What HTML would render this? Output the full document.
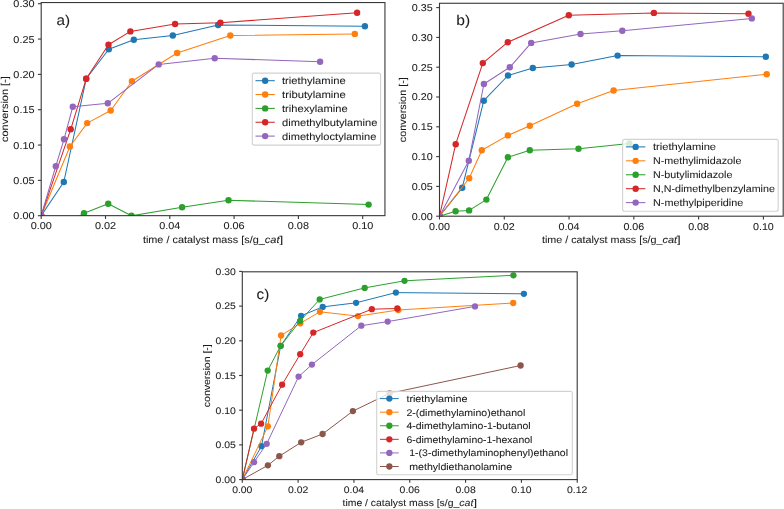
<!DOCTYPE html>
<html><head><meta charset="utf-8"><style>
html,body{margin:0;padding:0;background:#fff;}
svg{display:block;will-change:transform;}
text{font-family:"Liberation Sans",sans-serif;fill:#1c1c1c;text-rendering:geometricPrecision;stroke:#1c1c1c;stroke-width:0.07px;}
</style></head><body>
<svg width="784" height="509" viewBox="0 0 784 509">
<rect width="784" height="509" fill="#fff"/>
<clipPath id="clipa"><rect x="41.20" y="2.55" width="343.75" height="213.10"/></clipPath>
<g clip-path="url(#clipa)">
<polyline points="41.20,215.70 63.80,182.00 86.20,78.80 108.80,49.30 133.80,39.80 172.80,35.50 218.10,25.00 364.90,26.30" fill="none" stroke="#1f77b4" stroke-width="1.05" stroke-linejoin="round" stroke-linecap="butt"/>
<circle cx="41.20" cy="215.70" r="3.2" fill="#1f77b4"/>
<circle cx="63.80" cy="182.00" r="3.2" fill="#1f77b4"/>
<circle cx="86.20" cy="78.80" r="3.2" fill="#1f77b4"/>
<circle cx="108.80" cy="49.30" r="3.2" fill="#1f77b4"/>
<circle cx="133.80" cy="39.80" r="3.2" fill="#1f77b4"/>
<circle cx="172.80" cy="35.50" r="3.2" fill="#1f77b4"/>
<circle cx="218.10" cy="25.00" r="3.2" fill="#1f77b4"/>
<circle cx="364.90" cy="26.30" r="3.2" fill="#1f77b4"/>
<polyline points="41.20,215.70 69.90,146.50 87.20,123.10 110.70,110.50 131.90,81.30 177.10,53.00 230.30,35.50 354.80,33.90" fill="none" stroke="#ff7f0e" stroke-width="1.05" stroke-linejoin="round" stroke-linecap="butt"/>
<circle cx="41.20" cy="215.70" r="3.2" fill="#ff7f0e"/>
<circle cx="69.90" cy="146.50" r="3.2" fill="#ff7f0e"/>
<circle cx="87.20" cy="123.10" r="3.2" fill="#ff7f0e"/>
<circle cx="110.70" cy="110.50" r="3.2" fill="#ff7f0e"/>
<circle cx="131.90" cy="81.30" r="3.2" fill="#ff7f0e"/>
<circle cx="177.10" cy="53.00" r="3.2" fill="#ff7f0e"/>
<circle cx="230.30" cy="35.50" r="3.2" fill="#ff7f0e"/>
<circle cx="354.80" cy="33.90" r="3.2" fill="#ff7f0e"/>
<polyline points="75.00,218.50 84.00,213.20 108.20,203.70 131.50,215.80 182.10,207.20 228.50,200.30 368.60,204.60" fill="none" stroke="#2ca02c" stroke-width="1.05" stroke-linejoin="round" stroke-linecap="butt"/>
<circle cx="84.00" cy="213.20" r="3.2" fill="#2ca02c"/>
<circle cx="108.20" cy="203.70" r="3.2" fill="#2ca02c"/>
<circle cx="131.50" cy="215.80" r="3.2" fill="#2ca02c"/>
<circle cx="182.10" cy="207.20" r="3.2" fill="#2ca02c"/>
<circle cx="228.50" cy="200.30" r="3.2" fill="#2ca02c"/>
<circle cx="368.60" cy="204.60" r="3.2" fill="#2ca02c"/>
<polyline points="41.20,215.70 70.70,129.30 86.20,78.80 108.50,44.80 130.40,31.40 175.10,24.00 220.40,22.70 357.10,12.80" fill="none" stroke="#d62728" stroke-width="1.05" stroke-linejoin="round" stroke-linecap="butt"/>
<circle cx="41.20" cy="215.70" r="3.2" fill="#d62728"/>
<circle cx="70.70" cy="129.30" r="3.2" fill="#d62728"/>
<circle cx="86.20" cy="78.80" r="3.2" fill="#d62728"/>
<circle cx="108.50" cy="44.80" r="3.2" fill="#d62728"/>
<circle cx="130.40" cy="31.40" r="3.2" fill="#d62728"/>
<circle cx="175.10" cy="24.00" r="3.2" fill="#d62728"/>
<circle cx="220.40" cy="22.70" r="3.2" fill="#d62728"/>
<circle cx="357.10" cy="12.80" r="3.2" fill="#d62728"/>
<polyline points="41.20,215.70 55.80,166.20 64.00,139.30 72.80,106.70 107.80,103.30 158.70,64.40 214.70,58.20 320.10,61.80" fill="none" stroke="#9467bd" stroke-width="1.05" stroke-linejoin="round" stroke-linecap="butt"/>
<circle cx="41.20" cy="215.70" r="3.2" fill="#9467bd"/>
<circle cx="55.80" cy="166.20" r="3.2" fill="#9467bd"/>
<circle cx="64.00" cy="139.30" r="3.2" fill="#9467bd"/>
<circle cx="72.80" cy="106.70" r="3.2" fill="#9467bd"/>
<circle cx="107.80" cy="103.30" r="3.2" fill="#9467bd"/>
<circle cx="158.70" cy="64.40" r="3.2" fill="#9467bd"/>
<circle cx="214.70" cy="58.20" r="3.2" fill="#9467bd"/>
<circle cx="320.10" cy="61.80" r="3.2" fill="#9467bd"/>
</g>
<rect x="41.20" y="2.55" width="343.75" height="213.10" fill="none" stroke="#383838" stroke-width="1.1"/>
<line x1="41.20" y1="215.65" x2="41.20" y2="218.95" stroke="#383838" stroke-width="1.1"/>
<text x="41.20" y="229.45" font-size="9.97" text-anchor="middle" textLength="21.15" lengthAdjust="spacingAndGlyphs" >0.00</text>
<line x1="105.50" y1="215.65" x2="105.50" y2="218.95" stroke="#383838" stroke-width="1.1"/>
<text x="105.50" y="229.45" font-size="9.97" text-anchor="middle" textLength="21.15" lengthAdjust="spacingAndGlyphs" >0.02</text>
<line x1="169.80" y1="215.65" x2="169.80" y2="218.95" stroke="#383838" stroke-width="1.1"/>
<text x="169.80" y="229.45" font-size="9.97" text-anchor="middle" textLength="21.15" lengthAdjust="spacingAndGlyphs" >0.04</text>
<line x1="234.10" y1="215.65" x2="234.10" y2="218.95" stroke="#383838" stroke-width="1.1"/>
<text x="234.10" y="229.45" font-size="9.97" text-anchor="middle" textLength="21.15" lengthAdjust="spacingAndGlyphs" >0.06</text>
<line x1="298.40" y1="215.65" x2="298.40" y2="218.95" stroke="#383838" stroke-width="1.1"/>
<text x="298.40" y="229.45" font-size="9.97" text-anchor="middle" textLength="21.15" lengthAdjust="spacingAndGlyphs" >0.08</text>
<line x1="362.70" y1="215.65" x2="362.70" y2="218.95" stroke="#383838" stroke-width="1.1"/>
<text x="362.70" y="229.45" font-size="9.97" text-anchor="middle" textLength="21.15" lengthAdjust="spacingAndGlyphs" >0.10</text>
<line x1="37.90" y1="215.70" x2="41.20" y2="215.70" stroke="#383838" stroke-width="1.1"/>
<text x="34.50" y="219.16" font-size="9.97" text-anchor="end" textLength="21.15" lengthAdjust="spacingAndGlyphs" >0.00</text>
<line x1="37.90" y1="180.37" x2="41.20" y2="180.37" stroke="#383838" stroke-width="1.1"/>
<text x="34.50" y="183.83" font-size="9.97" text-anchor="end" textLength="21.15" lengthAdjust="spacingAndGlyphs" >0.05</text>
<line x1="37.90" y1="145.04" x2="41.20" y2="145.04" stroke="#383838" stroke-width="1.1"/>
<text x="34.50" y="148.50" font-size="9.97" text-anchor="end" textLength="21.15" lengthAdjust="spacingAndGlyphs" >0.10</text>
<line x1="37.90" y1="109.71" x2="41.20" y2="109.71" stroke="#383838" stroke-width="1.1"/>
<text x="34.50" y="113.17" font-size="9.97" text-anchor="end" textLength="21.15" lengthAdjust="spacingAndGlyphs" >0.15</text>
<line x1="37.90" y1="74.38" x2="41.20" y2="74.38" stroke="#383838" stroke-width="1.1"/>
<text x="34.50" y="77.84" font-size="9.97" text-anchor="end" textLength="21.15" lengthAdjust="spacingAndGlyphs" >0.20</text>
<line x1="37.90" y1="39.05" x2="41.20" y2="39.05" stroke="#383838" stroke-width="1.1"/>
<text x="34.50" y="42.51" font-size="9.97" text-anchor="end" textLength="21.15" lengthAdjust="spacingAndGlyphs" >0.25</text>
<line x1="37.90" y1="3.72" x2="41.20" y2="3.72" stroke="#383838" stroke-width="1.1"/>
<text x="34.50" y="7.18" font-size="9.97" text-anchor="end" textLength="21.15" lengthAdjust="spacingAndGlyphs" >0.30</text>
<text x="142.90" y="242.55" font-size="9.97" textLength="121.88" lengthAdjust="spacingAndGlyphs">time / catalyst mass [s/g_</text>
<text x="264.78" y="242.55" font-size="9.97" font-style="italic" textLength="14.77" lengthAdjust="spacingAndGlyphs">cat</text>
<text x="279.55" y="242.55" font-size="9.97" textLength="3.71" lengthAdjust="spacingAndGlyphs">]</text>
<text transform="translate(7.60,109.10) rotate(-90)" x="0" y="0" font-size="9.97" text-anchor="middle" textLength="65.71" lengthAdjust="spacingAndGlyphs">conversion [-]</text>
<text x="56.60" y="25.30" font-size="14.20" textLength="13.56" lengthAdjust="spacingAndGlyphs">a)</text>
<rect x="252.30" y="73.10" width="128.30" height="72.00" rx="2.00" fill="#fff" fill-opacity="0.8" stroke="#d2d2d2" stroke-width="1.1"/>
<line x1="255.50" y1="80.70" x2="274.80" y2="80.70" stroke="#1f77b4" stroke-width="1.05"/>
<circle cx="265.15" cy="80.70" r="3.2" fill="#1f77b4"/>
<text x="282.00" y="84.20" font-size="9.97" text-anchor="start" textLength="63.70" lengthAdjust="spacingAndGlyphs" >triethylamine</text>
<line x1="255.50" y1="94.55" x2="274.80" y2="94.55" stroke="#ff7f0e" stroke-width="1.05"/>
<circle cx="265.15" cy="94.55" r="3.2" fill="#ff7f0e"/>
<text x="282.00" y="98.05" font-size="9.97" text-anchor="start" textLength="63.89" lengthAdjust="spacingAndGlyphs" >tributylamine</text>
<line x1="255.50" y1="108.40" x2="274.80" y2="108.40" stroke="#2ca02c" stroke-width="1.05"/>
<circle cx="265.15" cy="108.40" r="3.2" fill="#2ca02c"/>
<text x="282.00" y="111.90" font-size="9.97" text-anchor="start" textLength="65.60" lengthAdjust="spacingAndGlyphs" >trihexylamine</text>
<line x1="255.50" y1="122.25" x2="274.80" y2="122.25" stroke="#d62728" stroke-width="1.05"/>
<circle cx="265.15" cy="122.25" r="3.2" fill="#d62728"/>
<text x="282.00" y="125.75" font-size="9.97" text-anchor="start" textLength="95.39" lengthAdjust="spacingAndGlyphs" >dimethylbutylamine</text>
<line x1="255.50" y1="136.10" x2="274.80" y2="136.10" stroke="#9467bd" stroke-width="1.05"/>
<circle cx="265.15" cy="136.10" r="3.2" fill="#9467bd"/>
<text x="282.00" y="139.60" font-size="9.97" text-anchor="start" textLength="94.38" lengthAdjust="spacingAndGlyphs" >dimethyloctylamine</text>
<clipPath id="clipb"><rect x="439.50" y="3.27" width="343.70" height="212.93"/></clipPath>
<g clip-path="url(#clipb)">
<polyline points="439.50,216.20 462.20,187.80 483.80,100.70 508.00,75.50 532.80,68.00 571.60,64.50 617.60,55.60 765.80,56.70" fill="none" stroke="#1f77b4" stroke-width="1.05" stroke-linejoin="round" stroke-linecap="butt"/>
<circle cx="439.50" cy="216.20" r="3.2" fill="#1f77b4"/>
<circle cx="462.20" cy="187.80" r="3.2" fill="#1f77b4"/>
<circle cx="483.80" cy="100.70" r="3.2" fill="#1f77b4"/>
<circle cx="508.00" cy="75.50" r="3.2" fill="#1f77b4"/>
<circle cx="532.80" cy="68.00" r="3.2" fill="#1f77b4"/>
<circle cx="571.60" cy="64.50" r="3.2" fill="#1f77b4"/>
<circle cx="617.60" cy="55.60" r="3.2" fill="#1f77b4"/>
<circle cx="765.80" cy="56.70" r="3.2" fill="#1f77b4"/>
<polyline points="439.50,216.20 469.20,178.30 481.80,150.20 507.90,135.40 529.80,125.70 577.10,103.80 613.60,90.50 766.70,74.30" fill="none" stroke="#ff7f0e" stroke-width="1.05" stroke-linejoin="round" stroke-linecap="butt"/>
<circle cx="439.50" cy="216.20" r="3.2" fill="#ff7f0e"/>
<circle cx="469.20" cy="178.30" r="3.2" fill="#ff7f0e"/>
<circle cx="481.80" cy="150.20" r="3.2" fill="#ff7f0e"/>
<circle cx="507.90" cy="135.40" r="3.2" fill="#ff7f0e"/>
<circle cx="529.80" cy="125.70" r="3.2" fill="#ff7f0e"/>
<circle cx="577.10" cy="103.80" r="3.2" fill="#ff7f0e"/>
<circle cx="613.60" cy="90.50" r="3.2" fill="#ff7f0e"/>
<circle cx="766.70" cy="74.30" r="3.2" fill="#ff7f0e"/>
<polyline points="439.50,216.20 455.60,211.30 469.10,210.40 486.40,199.60 507.90,157.30 529.80,150.20 578.50,148.80 629.40,143.40" fill="none" stroke="#2ca02c" stroke-width="1.05" stroke-linejoin="round" stroke-linecap="butt"/>
<circle cx="439.50" cy="216.20" r="3.2" fill="#2ca02c"/>
<circle cx="455.60" cy="211.30" r="3.2" fill="#2ca02c"/>
<circle cx="469.10" cy="210.40" r="3.2" fill="#2ca02c"/>
<circle cx="486.40" cy="199.60" r="3.2" fill="#2ca02c"/>
<circle cx="507.90" cy="157.30" r="3.2" fill="#2ca02c"/>
<circle cx="529.80" cy="150.20" r="3.2" fill="#2ca02c"/>
<circle cx="578.50" cy="148.80" r="3.2" fill="#2ca02c"/>
<circle cx="629.40" cy="143.40" r="3.2" fill="#2ca02c"/>
<polyline points="439.50,216.20 455.70,144.20 482.80,63.10 507.80,42.20 568.80,15.20 653.90,12.90 748.50,13.80" fill="none" stroke="#d62728" stroke-width="1.05" stroke-linejoin="round" stroke-linecap="butt"/>
<circle cx="439.50" cy="216.20" r="3.2" fill="#d62728"/>
<circle cx="455.70" cy="144.20" r="3.2" fill="#d62728"/>
<circle cx="482.80" cy="63.10" r="3.2" fill="#d62728"/>
<circle cx="507.80" cy="42.20" r="3.2" fill="#d62728"/>
<circle cx="568.80" cy="15.20" r="3.2" fill="#d62728"/>
<circle cx="653.90" cy="12.90" r="3.2" fill="#d62728"/>
<circle cx="748.50" cy="13.80" r="3.2" fill="#d62728"/>
<polyline points="439.50,216.20 468.80,160.80 483.90,84.00 509.80,67.30 531.20,42.90 580.50,34.00 622.30,30.80 751.80,18.40" fill="none" stroke="#9467bd" stroke-width="1.05" stroke-linejoin="round" stroke-linecap="butt"/>
<circle cx="439.50" cy="216.20" r="3.2" fill="#9467bd"/>
<circle cx="468.80" cy="160.80" r="3.2" fill="#9467bd"/>
<circle cx="483.90" cy="84.00" r="3.2" fill="#9467bd"/>
<circle cx="509.80" cy="67.30" r="3.2" fill="#9467bd"/>
<circle cx="531.20" cy="42.90" r="3.2" fill="#9467bd"/>
<circle cx="580.50" cy="34.00" r="3.2" fill="#9467bd"/>
<circle cx="622.30" cy="30.80" r="3.2" fill="#9467bd"/>
<circle cx="751.80" cy="18.40" r="3.2" fill="#9467bd"/>
</g>
<rect x="439.50" y="3.27" width="343.70" height="212.93" fill="none" stroke="#383838" stroke-width="1.1"/>
<line x1="439.50" y1="216.20" x2="439.50" y2="219.50" stroke="#383838" stroke-width="1.1"/>
<text x="439.50" y="230.00" font-size="9.87" text-anchor="middle" textLength="20.93" lengthAdjust="spacingAndGlyphs" >0.00</text>
<line x1="504.28" y1="216.20" x2="504.28" y2="219.50" stroke="#383838" stroke-width="1.1"/>
<text x="504.28" y="230.00" font-size="9.87" text-anchor="middle" textLength="20.93" lengthAdjust="spacingAndGlyphs" >0.02</text>
<line x1="569.06" y1="216.20" x2="569.06" y2="219.50" stroke="#383838" stroke-width="1.1"/>
<text x="569.06" y="230.00" font-size="9.87" text-anchor="middle" textLength="20.93" lengthAdjust="spacingAndGlyphs" >0.04</text>
<line x1="633.84" y1="216.20" x2="633.84" y2="219.50" stroke="#383838" stroke-width="1.1"/>
<text x="633.84" y="230.00" font-size="9.87" text-anchor="middle" textLength="20.93" lengthAdjust="spacingAndGlyphs" >0.06</text>
<line x1="698.62" y1="216.20" x2="698.62" y2="219.50" stroke="#383838" stroke-width="1.1"/>
<text x="698.62" y="230.00" font-size="9.87" text-anchor="middle" textLength="20.93" lengthAdjust="spacingAndGlyphs" >0.08</text>
<line x1="763.40" y1="216.20" x2="763.40" y2="219.50" stroke="#383838" stroke-width="1.1"/>
<text x="763.40" y="230.00" font-size="9.87" text-anchor="middle" textLength="20.93" lengthAdjust="spacingAndGlyphs" >0.10</text>
<line x1="436.20" y1="216.20" x2="439.50" y2="216.20" stroke="#383838" stroke-width="1.1"/>
<text x="432.80" y="219.63" font-size="9.87" text-anchor="end" textLength="20.93" lengthAdjust="spacingAndGlyphs" >0.00</text>
<line x1="436.20" y1="186.40" x2="439.50" y2="186.40" stroke="#383838" stroke-width="1.1"/>
<text x="432.80" y="189.83" font-size="9.87" text-anchor="end" textLength="20.93" lengthAdjust="spacingAndGlyphs" >0.05</text>
<line x1="436.20" y1="156.60" x2="439.50" y2="156.60" stroke="#383838" stroke-width="1.1"/>
<text x="432.80" y="160.03" font-size="9.87" text-anchor="end" textLength="20.93" lengthAdjust="spacingAndGlyphs" >0.10</text>
<line x1="436.20" y1="126.80" x2="439.50" y2="126.80" stroke="#383838" stroke-width="1.1"/>
<text x="432.80" y="130.23" font-size="9.87" text-anchor="end" textLength="20.93" lengthAdjust="spacingAndGlyphs" >0.15</text>
<line x1="436.20" y1="97.00" x2="439.50" y2="97.00" stroke="#383838" stroke-width="1.1"/>
<text x="432.80" y="100.43" font-size="9.87" text-anchor="end" textLength="20.93" lengthAdjust="spacingAndGlyphs" >0.20</text>
<line x1="436.20" y1="67.20" x2="439.50" y2="67.20" stroke="#383838" stroke-width="1.1"/>
<text x="432.80" y="70.63" font-size="9.87" text-anchor="end" textLength="20.93" lengthAdjust="spacingAndGlyphs" >0.25</text>
<line x1="436.20" y1="37.40" x2="439.50" y2="37.40" stroke="#383838" stroke-width="1.1"/>
<text x="432.80" y="40.83" font-size="9.87" text-anchor="end" textLength="20.93" lengthAdjust="spacingAndGlyphs" >0.30</text>
<line x1="436.20" y1="7.60" x2="439.50" y2="7.60" stroke="#383838" stroke-width="1.1"/>
<text x="432.80" y="11.03" font-size="9.87" text-anchor="end" textLength="20.93" lengthAdjust="spacingAndGlyphs" >0.35</text>
<text x="541.91" y="243.10" font-size="9.87" textLength="120.60" lengthAdjust="spacingAndGlyphs">time / catalyst mass [s/g_</text>
<text x="662.51" y="243.10" font-size="9.87" font-style="italic" textLength="14.61" lengthAdjust="spacingAndGlyphs">cat</text>
<text x="677.12" y="243.10" font-size="9.87" textLength="3.67" lengthAdjust="spacingAndGlyphs">]</text>
<text transform="translate(405.90,109.73) rotate(-90)" x="0" y="0" font-size="9.87" text-anchor="middle" textLength="65.02" lengthAdjust="spacingAndGlyphs">conversion [-]</text>
<text x="456.30" y="25.20" font-size="14.20" textLength="13.86" lengthAdjust="spacingAndGlyphs">b)</text>
<rect x="622.60" y="139.40" width="155.60" height="71.90" rx="2.00" fill="#fff" fill-opacity="0.8" stroke="#d2d2d2" stroke-width="1.1"/>
<line x1="625.90" y1="146.90" x2="645.40" y2="146.90" stroke="#1f77b4" stroke-width="1.05"/>
<circle cx="635.65" cy="146.90" r="3.2" fill="#1f77b4"/>
<text x="653.00" y="150.40" font-size="9.87" text-anchor="start" textLength="63.03" lengthAdjust="spacingAndGlyphs" >triethylamine</text>
<line x1="625.90" y1="160.83" x2="645.40" y2="160.83" stroke="#ff7f0e" stroke-width="1.05"/>
<circle cx="635.65" cy="160.83" r="3.2" fill="#ff7f0e"/>
<text x="653.00" y="164.33" font-size="9.87" text-anchor="start" textLength="88.37" lengthAdjust="spacingAndGlyphs" >N-methylimidazole</text>
<line x1="625.90" y1="174.76" x2="645.40" y2="174.76" stroke="#2ca02c" stroke-width="1.05"/>
<circle cx="635.65" cy="174.76" r="3.2" fill="#2ca02c"/>
<text x="653.00" y="178.26" font-size="9.87" text-anchor="start" textLength="79.40" lengthAdjust="spacingAndGlyphs" >N-butylimidazole</text>
<line x1="625.90" y1="188.69" x2="645.40" y2="188.69" stroke="#d62728" stroke-width="1.05"/>
<circle cx="635.65" cy="188.69" r="3.2" fill="#d62728"/>
<text x="653.00" y="192.19" font-size="9.87" text-anchor="start" textLength="121.86" lengthAdjust="spacingAndGlyphs" >N,N-dimethylbenzylamine</text>
<line x1="625.90" y1="202.62" x2="645.40" y2="202.62" stroke="#9467bd" stroke-width="1.05"/>
<circle cx="635.65" cy="202.62" r="3.2" fill="#9467bd"/>
<text x="653.00" y="206.12" font-size="9.87" text-anchor="start" textLength="90.31" lengthAdjust="spacingAndGlyphs" >N-methylpiperidine</text>
<clipPath id="clipc"><rect x="242.30" y="271.80" width="334.90" height="207.80"/></clipPath>
<g clip-path="url(#clipc)">
<polyline points="242.30,479.60 261.50,446.20 280.70,345.80 301.10,315.80 322.70,306.90 356.10,302.80 395.90,292.60 523.90,293.80" fill="none" stroke="#1f77b4" stroke-width="1.0" stroke-linejoin="round" stroke-linecap="butt"/>
<circle cx="242.30" cy="479.60" r="3.15" fill="#1f77b4"/>
<circle cx="261.50" cy="446.20" r="3.15" fill="#1f77b4"/>
<circle cx="280.70" cy="345.80" r="3.15" fill="#1f77b4"/>
<circle cx="301.10" cy="315.80" r="3.15" fill="#1f77b4"/>
<circle cx="322.70" cy="306.90" r="3.15" fill="#1f77b4"/>
<circle cx="356.10" cy="302.80" r="3.15" fill="#1f77b4"/>
<circle cx="395.90" cy="292.60" r="3.15" fill="#1f77b4"/>
<circle cx="523.90" cy="293.80" r="3.15" fill="#1f77b4"/>
<polyline points="242.30,479.60 267.90,426.30 281.10,335.50 300.30,323.30 319.90,311.80 358.00,316.10 398.30,310.00 513.20,303.00" fill="none" stroke="#ff7f0e" stroke-width="1.0" stroke-linejoin="round" stroke-linecap="butt"/>
<circle cx="242.30" cy="479.60" r="3.15" fill="#ff7f0e"/>
<circle cx="267.90" cy="426.30" r="3.15" fill="#ff7f0e"/>
<circle cx="281.10" cy="335.50" r="3.15" fill="#ff7f0e"/>
<circle cx="300.30" cy="323.30" r="3.15" fill="#ff7f0e"/>
<circle cx="319.90" cy="311.80" r="3.15" fill="#ff7f0e"/>
<circle cx="358.00" cy="316.10" r="3.15" fill="#ff7f0e"/>
<circle cx="398.30" cy="310.00" r="3.15" fill="#ff7f0e"/>
<circle cx="513.20" cy="303.00" r="3.15" fill="#ff7f0e"/>
<polyline points="242.30,479.60 267.70,370.60 280.70,345.80 300.10,320.90 319.70,299.40 364.70,287.90 404.50,280.80 513.40,275.30" fill="none" stroke="#2ca02c" stroke-width="1.0" stroke-linejoin="round" stroke-linecap="butt"/>
<circle cx="242.30" cy="479.60" r="3.15" fill="#2ca02c"/>
<circle cx="267.70" cy="370.60" r="3.15" fill="#2ca02c"/>
<circle cx="280.70" cy="345.80" r="3.15" fill="#2ca02c"/>
<circle cx="300.10" cy="320.90" r="3.15" fill="#2ca02c"/>
<circle cx="319.70" cy="299.40" r="3.15" fill="#2ca02c"/>
<circle cx="364.70" cy="287.90" r="3.15" fill="#2ca02c"/>
<circle cx="404.50" cy="280.80" r="3.15" fill="#2ca02c"/>
<circle cx="513.40" cy="275.30" r="3.15" fill="#2ca02c"/>
<polyline points="242.30,479.60 254.00,428.70 261.10,423.70 282.10,384.70 300.20,354.20 313.30,332.60 371.80,309.20 397.30,308.50" fill="none" stroke="#d62728" stroke-width="1.0" stroke-linejoin="round" stroke-linecap="butt"/>
<circle cx="242.30" cy="479.60" r="3.15" fill="#d62728"/>
<circle cx="254.00" cy="428.70" r="3.15" fill="#d62728"/>
<circle cx="261.10" cy="423.70" r="3.15" fill="#d62728"/>
<circle cx="282.10" cy="384.70" r="3.15" fill="#d62728"/>
<circle cx="300.20" cy="354.20" r="3.15" fill="#d62728"/>
<circle cx="313.30" cy="332.60" r="3.15" fill="#d62728"/>
<circle cx="371.80" cy="309.20" r="3.15" fill="#d62728"/>
<circle cx="397.30" cy="308.50" r="3.15" fill="#d62728"/>
<polyline points="242.30,479.60 254.00,462.20 266.70,443.80 298.60,376.60 311.90,364.60 361.30,325.70 387.70,321.60 475.00,306.40" fill="none" stroke="#9467bd" stroke-width="1.0" stroke-linejoin="round" stroke-linecap="butt"/>
<circle cx="242.30" cy="479.60" r="3.15" fill="#9467bd"/>
<circle cx="254.00" cy="462.20" r="3.15" fill="#9467bd"/>
<circle cx="266.70" cy="443.80" r="3.15" fill="#9467bd"/>
<circle cx="298.60" cy="376.60" r="3.15" fill="#9467bd"/>
<circle cx="311.90" cy="364.60" r="3.15" fill="#9467bd"/>
<circle cx="361.30" cy="325.70" r="3.15" fill="#9467bd"/>
<circle cx="387.70" cy="321.60" r="3.15" fill="#9467bd"/>
<circle cx="475.00" cy="306.40" r="3.15" fill="#9467bd"/>
<polyline points="242.30,479.60 267.90,465.30 279.30,456.20 301.20,442.30 322.60,434.00 352.90,411.10 389.60,393.30 520.60,365.50" fill="none" stroke="#8c564b" stroke-width="1.0" stroke-linejoin="round" stroke-linecap="butt"/>
<circle cx="242.30" cy="479.60" r="3.15" fill="#8c564b"/>
<circle cx="267.90" cy="465.30" r="3.15" fill="#8c564b"/>
<circle cx="279.30" cy="456.20" r="3.15" fill="#8c564b"/>
<circle cx="301.20" cy="442.30" r="3.15" fill="#8c564b"/>
<circle cx="322.60" cy="434.00" r="3.15" fill="#8c564b"/>
<circle cx="352.90" cy="411.10" r="3.15" fill="#8c564b"/>
<circle cx="389.60" cy="393.30" r="3.15" fill="#8c564b"/>
<circle cx="520.60" cy="365.50" r="3.15" fill="#8c564b"/>
</g>
<rect x="242.30" y="271.80" width="334.90" height="207.80" fill="none" stroke="#383838" stroke-width="1.1"/>
<line x1="242.30" y1="479.60" x2="242.30" y2="482.76" stroke="#383838" stroke-width="1.1"/>
<text x="242.30" y="492.82" font-size="9.55" text-anchor="middle" textLength="20.26" lengthAdjust="spacingAndGlyphs" >0.00</text>
<line x1="298.12" y1="479.60" x2="298.12" y2="482.76" stroke="#383838" stroke-width="1.1"/>
<text x="298.12" y="492.82" font-size="9.55" text-anchor="middle" textLength="20.26" lengthAdjust="spacingAndGlyphs" >0.02</text>
<line x1="353.94" y1="479.60" x2="353.94" y2="482.76" stroke="#383838" stroke-width="1.1"/>
<text x="353.94" y="492.82" font-size="9.55" text-anchor="middle" textLength="20.26" lengthAdjust="spacingAndGlyphs" >0.04</text>
<line x1="409.76" y1="479.60" x2="409.76" y2="482.76" stroke="#383838" stroke-width="1.1"/>
<text x="409.76" y="492.82" font-size="9.55" text-anchor="middle" textLength="20.26" lengthAdjust="spacingAndGlyphs" >0.06</text>
<line x1="465.58" y1="479.60" x2="465.58" y2="482.76" stroke="#383838" stroke-width="1.1"/>
<text x="465.58" y="492.82" font-size="9.55" text-anchor="middle" textLength="20.26" lengthAdjust="spacingAndGlyphs" >0.08</text>
<line x1="521.40" y1="479.60" x2="521.40" y2="482.76" stroke="#383838" stroke-width="1.1"/>
<text x="521.40" y="492.82" font-size="9.55" text-anchor="middle" textLength="20.26" lengthAdjust="spacingAndGlyphs" >0.10</text>
<line x1="577.22" y1="479.60" x2="577.22" y2="482.76" stroke="#383838" stroke-width="1.1"/>
<text x="577.22" y="492.82" font-size="9.55" text-anchor="middle" textLength="20.26" lengthAdjust="spacingAndGlyphs" >0.12</text>
<line x1="239.14" y1="479.60" x2="242.30" y2="479.60" stroke="#383838" stroke-width="1.1"/>
<text x="235.88" y="482.92" font-size="9.55" text-anchor="end" textLength="20.26" lengthAdjust="spacingAndGlyphs" >0.00</text>
<line x1="239.14" y1="444.90" x2="242.30" y2="444.90" stroke="#383838" stroke-width="1.1"/>
<text x="235.88" y="448.22" font-size="9.55" text-anchor="end" textLength="20.26" lengthAdjust="spacingAndGlyphs" >0.05</text>
<line x1="239.14" y1="410.20" x2="242.30" y2="410.20" stroke="#383838" stroke-width="1.1"/>
<text x="235.88" y="413.52" font-size="9.55" text-anchor="end" textLength="20.26" lengthAdjust="spacingAndGlyphs" >0.10</text>
<line x1="239.14" y1="375.50" x2="242.30" y2="375.50" stroke="#383838" stroke-width="1.1"/>
<text x="235.88" y="378.82" font-size="9.55" text-anchor="end" textLength="20.26" lengthAdjust="spacingAndGlyphs" >0.15</text>
<line x1="239.14" y1="340.80" x2="242.30" y2="340.80" stroke="#383838" stroke-width="1.1"/>
<text x="235.88" y="344.12" font-size="9.55" text-anchor="end" textLength="20.26" lengthAdjust="spacingAndGlyphs" >0.20</text>
<line x1="239.14" y1="306.10" x2="242.30" y2="306.10" stroke="#383838" stroke-width="1.1"/>
<text x="235.88" y="309.42" font-size="9.55" text-anchor="end" textLength="20.26" lengthAdjust="spacingAndGlyphs" >0.25</text>
<line x1="239.14" y1="271.40" x2="242.30" y2="271.40" stroke="#383838" stroke-width="1.1"/>
<text x="235.88" y="274.72" font-size="9.55" text-anchor="end" textLength="20.26" lengthAdjust="spacingAndGlyphs" >0.30</text>
<text x="342.53" y="506.20" font-size="9.55" textLength="116.75" lengthAdjust="spacingAndGlyphs">time / catalyst mass [s/g_</text>
<text x="459.28" y="506.20" font-size="9.55" font-style="italic" textLength="14.15" lengthAdjust="spacingAndGlyphs">cat</text>
<text x="473.42" y="506.20" font-size="9.55" textLength="3.55" lengthAdjust="spacingAndGlyphs">]</text>
<text transform="translate(210.11,375.70) rotate(-90)" x="0" y="0" font-size="9.55" text-anchor="middle" textLength="62.94" lengthAdjust="spacingAndGlyphs">conversion [-]</text>
<text x="256.60" y="299.10" font-size="14.20" textLength="12.71" lengthAdjust="spacingAndGlyphs">c)</text>
<rect x="376.70" y="391.40" width="195.60" height="83.40" rx="1.92" fill="#fff" fill-opacity="0.8" stroke="#d2d2d2" stroke-width="1.1"/>
<line x1="380.00" y1="398.60" x2="398.70" y2="398.60" stroke="#1f77b4" stroke-width="1.0"/>
<circle cx="389.35" cy="398.60" r="3.15" fill="#1f77b4"/>
<text x="406.40" y="401.95" font-size="9.55" text-anchor="start" textLength="61.02" lengthAdjust="spacingAndGlyphs" >triethylamine</text>
<line x1="380.00" y1="412.18" x2="398.70" y2="412.18" stroke="#ff7f0e" stroke-width="1.0"/>
<circle cx="389.35" cy="412.18" r="3.15" fill="#ff7f0e"/>
<text x="406.40" y="415.53" font-size="9.55" text-anchor="start" textLength="118.87" lengthAdjust="spacingAndGlyphs" >2-(dimethylamino)ethanol</text>
<line x1="380.00" y1="425.76" x2="398.70" y2="425.76" stroke="#2ca02c" stroke-width="1.0"/>
<circle cx="389.35" cy="425.76" r="3.15" fill="#2ca02c"/>
<text x="406.40" y="429.11" font-size="9.55" text-anchor="start" textLength="124.30" lengthAdjust="spacingAndGlyphs" >4-dimethylamino-1-butanol</text>
<line x1="380.00" y1="439.34" x2="398.70" y2="439.34" stroke="#d62728" stroke-width="1.0"/>
<circle cx="389.35" cy="439.34" r="3.15" fill="#d62728"/>
<text x="406.40" y="442.69" font-size="9.55" text-anchor="start" textLength="125.94" lengthAdjust="spacingAndGlyphs" >6-dimethylamino-1-hexanol</text>
<line x1="380.00" y1="452.92" x2="398.70" y2="452.92" stroke="#9467bd" stroke-width="1.0"/>
<circle cx="389.35" cy="452.92" r="3.15" fill="#9467bd"/>
<text x="409.29" y="456.27" font-size="9.55" text-anchor="start" textLength="158.77" lengthAdjust="spacingAndGlyphs" >1-(3-dimethylaminophenyl)ethanol</text>
<line x1="380.00" y1="466.50" x2="398.70" y2="466.50" stroke="#8c564b" stroke-width="1.0"/>
<circle cx="389.35" cy="466.50" r="3.15" fill="#8c564b"/>
<text x="409.29" y="469.85" font-size="9.55" text-anchor="start" textLength="102.73" lengthAdjust="spacingAndGlyphs" >methyldiethanolamine</text>
</svg>
</body></html>
